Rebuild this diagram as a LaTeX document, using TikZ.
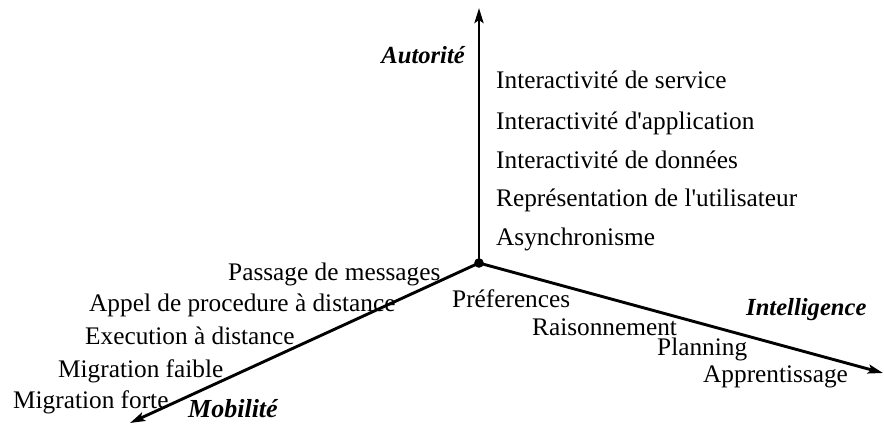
\documentclass[tikz,border=0pt]{standalone}
\usepackage{fontspec}
\setmainfont{Liberation Serif}[Ligatures=TeXOff]
\usetikzlibrary{arrows.meta}
\begin{document}
\begin{tikzpicture}[x=1pt,y=-1pt,
  axis/.style={line width=2.9pt,-{Stealth[length=15pt,width=9pt,inset=3pt]}},
  item/.style={font=\fontsize{25.3}{28}\selectfont,inner sep=0pt,anchor=base west},
  axislabel/.style={font=\fontsize{24.6}{28}\selectfont\bfseries\itshape,inner sep=0pt}]
\useasboundingbox (0,0) rectangle (884,426);
% origin and the three axes
\coordinate (o) at (479,263);
\coordinate (top) at (479,8);
\coordinate (right) at (883,373);
\coordinate (left) at (130,423);
\draw[axis] (o) -- (top);
\draw[axis] (o) -- (right);
\draw[axis] (o) -- (left);
\fill (o) circle (4.8);
% axis names
\node[axislabel,anchor=base east] (aut) at (465,63) {Autorité};
\node[axislabel,anchor=base west] (int) at (746,315) {Intelligence};
\node[axislabel,anchor=base west,font=\fontsize{26}{28}\selectfont\bfseries\itshape] (mob) at (188,417) {Mobilité};
% authority levels
\node[item] (a1) at (496,88) {Interactivité de service};
\node[item] (a2) at (496,129) {Interactivité d'application};
\node[item] (a3) at (496,168) {Interactivité de données};
\node[item] (a4) at (496,206) {Représentation de l'utilisateur};
\node[item] (a5) at (496,245) {Asynchronisme};
% mobility levels
\node[item] (m1) at (228,280) {Passage de messages};
\node[item] (m2) at (89,311) {Appel de procedure à distance};
\node[item] (m3) at (85,344) {Execution à distance};
\node[item] (m4) at (58,377) {Migration faible};
\node[item] (m5) at (13,408) {Migration forte};
% intelligence levels
\node[item] (i1) at (452,307) {Préferences};
\node[item] (i2) at (532,335) {Raisonnement};
\node[item] (i3) at (657,355) {Planning};
\node[item] (i4) at (703,382) {Apprentissage};
\end{tikzpicture}
\end{document}
